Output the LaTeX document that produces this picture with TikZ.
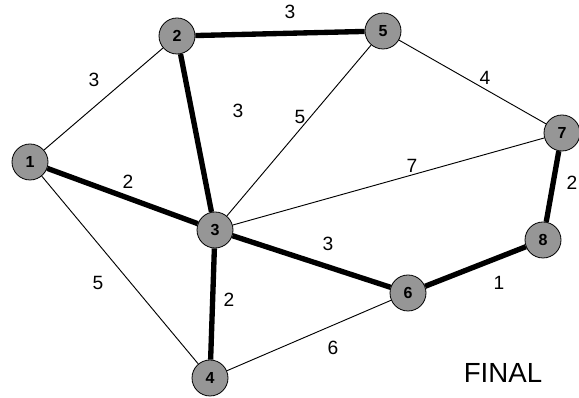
\documentclass[tikz,border=0pt]{standalone}
\usepackage{fontspec}
\setmainfont{Liberation Sans}
\usetikzlibrary{positioning}
\definecolor{DotGray}{RGB}{150,150,150}

\begin{document}
\begin{tikzpicture}[
  x=0.75pt, y=-0.75pt,
  vertex/.style={
    circle,
    minimum size=27pt,
    inner sep=0pt,
    fill=DotGray,
    draw=black,
    line width=0.6pt,
    font=\bfseries\large
  },
  wire/.style={line width=0.7pt},
  tree/.style={line width=4pt},
  weight/.style={font=\Large}
]

  \useasboundingbox (0,0) rectangle (579,398);

  \node[vertex] (v1) at (30,162)  {1};
  \node[vertex] (v2) at (177,36)  {2};
  \node[vertex] (v5) at (383,31)  {5};
  \node[vertex] (v7) at (562,133) {7};
  \node[vertex] (v3) at (215,230) {3};
  \node[vertex] (v8) at (543,240) {8};
  \node[vertex] (v6) at (408,293) {6};
  \node[vertex] (v4) at (210,378) {4};

  % thin edges
  \draw[wire] (v1) -- (v2);
  \draw[wire] (v5) -- (v3);
  \draw[wire] (v5) -- (v7);
  \draw[wire] (v3) -- (v7);
  \draw[wire] (v1) -- (v4);
  \draw[wire] (v4) -- (v6);

  % spanning tree
  \draw[tree] (v2) -- (v5);
  \draw[tree] (v2) -- (v3);
  \draw[tree] (v1) -- (v3);
  \draw[tree] (v3) -- (v6);
  \draw[tree] (v6) -- (v8);
  \draw[tree] (v8) -- (v7);
  \draw[tree] (v3) -- (v4);

  \node[weight] (w25) at (290,12)  {3};
  \node[weight] (w57) at (485,78)  {4};
  \node[weight] (w12) at (94,80)   {3};
  \node[weight] (w23) at (238,111) {3};
  \node[weight] (w53) at (300,117) {5};
  \node[weight] (w37) at (412,166) {7};
  \node[weight] (w13) at (128,182) {2};
  \node[weight] (w78) at (572,183) {2};
  \node[weight] (w36) at (328,244) {3};
  \node[weight] (w68) at (499,283) {1};
  \node[weight] (w14) at (98,283)  {5};
  \node[weight] (w34) at (229,300) {2};
  \node[weight] (w46) at (333,348) {6};

  \node[font=\huge] (final) at (503,373) {FINAL};

\end{tikzpicture}
\end{document}
